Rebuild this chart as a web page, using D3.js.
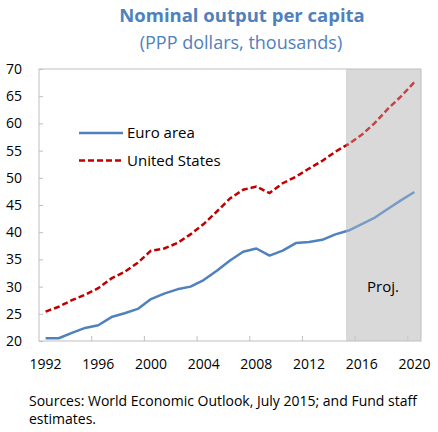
<!DOCTYPE html>
<html>
<head>
<meta charset="utf-8">
<script src="https://cdn.jsdelivr.net/npm/d3@7"></script>
<style>
  body { margin: 0; background: #fff; }
  svg { font-family: "Open Sans", sans-serif; }
</style>
</head>
<body>
<svg id="chart" width="438" height="432"></svg>
<script>
var years = d3.range(1992, 2021);
var euroArea = [20.5, 20.5, 21.5, 22.4, 22.9, 24.4, 25.1, 25.9, 27.7, 28.7,
  29.5, 30.0, 31.2, 32.9, 34.8, 36.4, 37.0, 35.7, 36.6, 38.0,
  38.2, 38.6, 39.6, 40.3, 41.5, 42.7, 44.3, 45.9, 47.4];
var unitedStates = [25.4, 26.3, 27.5, 28.5, 29.7, 31.5, 32.7, 34.4, 36.6, 37.0,
  38.0, 39.6, 41.5, 43.8, 46.2, 47.8, 48.4, 47.2, 49.0, 50.2,
  51.7, 53.1, 54.8, 56.2, 57.9, 60.1, 62.7, 65.0, 67.6];
var yTicks = [20, 25, 30, 35, 40, 45, 50, 55, 60, 65, 70];
var xTickYears = [1992, 1996, 2000, 2004, 2008, 2012, 2016, 2020];
var projStart = 2015;

var svg = d3.select('#chart');
var plotL = 39, plotR = 421, plotT = 69, plotB = 341;

var x = d3.scaleBand().domain(years).range([plotL, plotR]).padding(0);
var y = d3.scaleLinear().domain([20, 70]).range([plotB, plotT]);
var cx = function(yr) { return x(yr) + x.bandwidth() / 2; };

// titles
svg.append('text').attr('x', 242).attr('y', 22)
  .attr('text-anchor', 'middle').style('font-size', '18.5px').style('font-weight', 'bold')
  .style('fill', '#4F81BD').text('Nominal output per capita');
svg.append('text').attr('x', 241).attr('y', 49)
  .attr('text-anchor', 'middle').style('font-size', '18px')
  .style('fill', '#4F81BD').text('(PPP dollars, thousands)');

// projection shading (under the lines)
var shadeX = cx(projStart) - 2.5;
svg.append('rect').attr('x', shadeX).attr('y', plotT)
  .attr('width', plotR - shadeX).attr('height', plotB - plotT)
  .style('fill', '#D9D9D9');

// frame
svg.append('rect').attr('x', plotL).attr('y', plotT)
  .attr('width', plotR - plotL).attr('height', plotB - plotT)
  .style('fill', 'none').style('stroke', '#BFBFBF').style('stroke-width', 1);

// y axis, ticks point inward
var yAxis = svg.append('g').attr('transform', 'translate(' + plotL + ',0)')
  .call(d3.axisLeft(y).tickValues(yTicks).tickSizeInner(-4).tickSizeOuter(0).tickPadding(17));
yAxis.select('.domain').remove();
yAxis.selectAll('line').style('stroke', '#BFBFBF');
yAxis.selectAll('text').style('font-size', '14px').style('fill', '#000')
  .style('font-family', '"Open Sans", sans-serif');

// x axis: labels centred on categories, tick marks on category boundaries
var xAxis = svg.append('g').attr('transform', 'translate(0,' + plotB + ')')
  .call(d3.axisBottom(x).tickValues(xTickYears).tickSize(0).tickPadding(18));
xAxis.select('.domain').remove();
xAxis.selectAll('text').style('font-size', '14px').style('fill', '#000')
  .style('font-family', '"Open Sans", sans-serif');
svg.append('g').selectAll('line').data(xTickYears.slice(1)).enter().append('line')
  .attr('x1', function(d) { return x(d); }).attr('x2', function(d) { return x(d); })
  .attr('y1', plotB).attr('y2', plotB - 5)
  .style('stroke', '#BFBFBF');

// lines
var line = d3.line()
  .x(function(d) { return cx(d[0]); })
  .y(function(d) { return y(d[1]); });

svg.append('path').datum(d3.zip(years, euroArea)).attr('d', line)
  .style('fill', 'none').style('stroke', '#4F81BD').style('stroke-width', 2.5)
  .style('stroke-linejoin', 'round');
svg.append('path').datum(d3.zip(years, unitedStates)).attr('d', line)
  .style('fill', 'none').style('stroke', '#C00000').style('stroke-width', 2.5)
  .style('stroke-dasharray', '6,3');

// faded overlay over projected part
svg.append('rect').attr('x', shadeX).attr('y', plotT + 1)
  .attr('width', plotR - shadeX - 1).attr('height', plotB - plotT - 2)
  .style('fill', '#D9D9D9').style('opacity', 0.3);

svg.append('text').attr('x', 367).attr('y', 292)
  .style('font-size', '15px').style('fill', '#000').text('Proj.');

// legend
var legend = [
  { name: 'Euro area', color: '#4F81BD', dash: null, y: 133 },
  { name: 'United States', color: '#C00000', dash: '6,3', y: 160.5 }
];
legend.forEach(function(l) {
  svg.append('line').attr('x1', 79).attr('x2', 123).attr('y1', l.y).attr('y2', l.y)
    .style('stroke', l.color).style('stroke-width', 2.5)
    .style('stroke-dasharray', l.dash);
  svg.append('text').attr('x', 127).attr('y', l.y + 5)
    .style('font-size', '15px').style('fill', '#000').text(l.name);
});

// source note
svg.append('text').attr('x', 29).attr('y', 406)
  .style('font-size', '14px').style('fill', '#000')
  .text('Sources: World  Economic Outlook, July 2015; and Fund staff');
svg.append('text').attr('x', 29).attr('y', 424)
  .style('font-size', '14px').style('fill', '#000')
  .text('estimates.');
</script>
</body>
</html>
